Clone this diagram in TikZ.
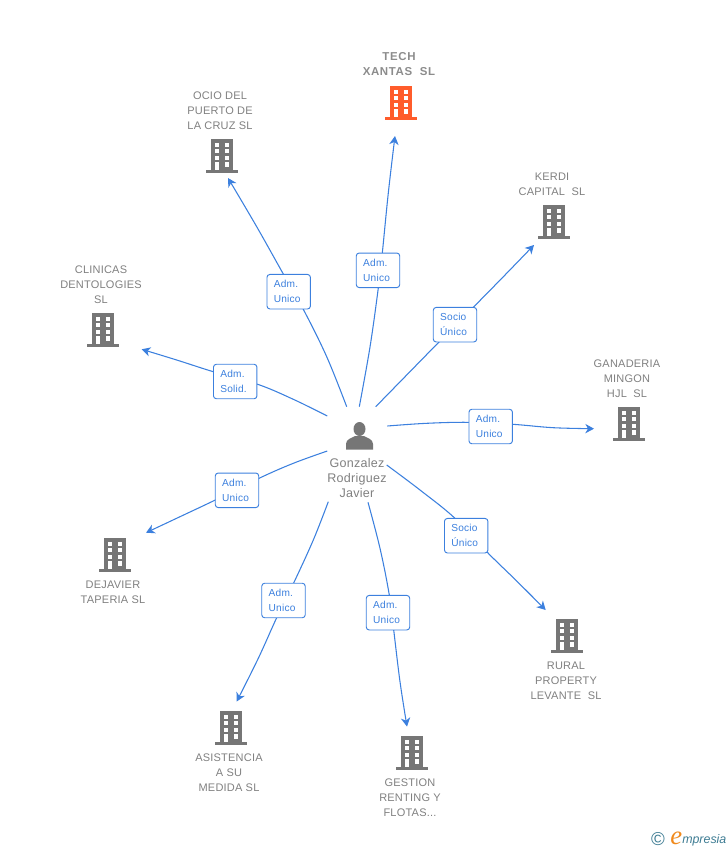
\documentclass[tikz,border=0pt]{standalone}
\usepackage{fontspec}
\setmainfont{Liberation Sans}[LetterSpace=2]
\newfontfamily\logofont{Liberation Sans}
\newfontfamily\logoefont{Liberation Serif}
\usetikzlibrary{arrows.meta,calc}
\definecolor{linkblue}{HTML}{3C80DE}
\definecolor{greytext}{HTML}{808080}
\definecolor{greytextb}{HTML}{8C8C8C}
\definecolor{greybldg}{HTML}{767676}
\definecolor{orangebldg}{HTML}{FF5C2B}
\definecolor{logoteal}{HTML}{3E7C93}
\definecolor{logoorange}{HTML}{F08A1D}
\tikzset{
  ttl/.style={font=\fontsize{8.25pt}{11.25pt}\selectfont,text=greytext,align=center,inner sep=0pt},
  ttlb/.style={font=\fontsize{8.6pt}{11.25pt}\selectfont\bfseries\addfontfeature{LetterSpace=5.5},text=greytextb,align=center,inner sep=0pt},
  pname/.style={font=\fontsize{9.4pt}{11.25pt}\selectfont,text=greytext,align=center,inner sep=0pt},
  lbl/.style={draw=linkblue,fill=white,rounded corners=2.2pt,line width=0.7pt,minimum width=32.6pt,minimum height=25.9pt,inner xsep=5.2pt,inner ysep=0pt,text width=22.2pt,align=left,text=linkblue,font=\fontsize{7.6pt}{11.25pt}\selectfont},
  lnk/.style={draw=linkblue,line width=0.8pt,-{Stealth[length=6.5pt,width=7pt,inset=2pt]}}
}
% name, x, y, colour
\newcommand{\bldg}[4]{%
  \begin{scope}[shift={(#2,#3)}]
    \node[inner sep=0pt,minimum width=24pt,minimum height=25pt] (#1) at (0,0) {};
    \fill[#4] (-11,-17) rectangle (11,15);
    \fill[#4] (-16,14) rectangle (16,17);
    \foreach \yy in {-13.3,-7,-0.4}{
      \fill[white] (-7.3,\yy) rectangle (-2.7,\yy+4.3);
      \fill[white] (2.6,\yy) rectangle (7.3,\yy+4.3);
    }
    \fill[white] (-7.3,6.3) rectangle (-2.7,14);
    \fill[white] (2.6,6.3) rectangle (7.3,10.6);
  \end{scope}}
% name, start, p1, p2, p3, p4, end, label centre, text
\newcommand{\link}[9]{%
  \coordinate (#1s) at (#2);
  \coordinate (#1e) at (#7);
  \coordinate (#1m) at (#8);
  \draw[lnk] plot[smooth,tension=0.6] coordinates {(#1s) (#3) (#4) (#5) (#6) (#1e)};
  \node[lbl] (#1l) at (#1m) {#9};}
\begin{document}
\begin{tikzpicture}[x=0.75pt,y=-0.75pt]
\useasboundingbox (0,0) rectangle (728,850);
\link{a}{359.3,406.7}{370,347}{378.3,288}{382.3,253}{388.3,193}{395,136}{378,270.3}{Adm.\\Unico}
\link{b}{346.7,406.7}{326.7,356.7}{303.3,309.3}{283.3,274}{256.7,226.7}{228,178}{288.7,291.7}{Adm.\\Unico}
\link{c}{375.7,406.7}{407,374.7}{438.3,342.7}{473.3,307.3}{505,275}{534,245}{455,324.7}{Socio\\Único}
\link{d}{327.3,416}{293.3,399.3}{257.7,384.3}{213.3,371.7}{176.7,360}{141.7,349.3}{235.2,381.5}{Adm.\\Solid.}
\link{e}{387.3,426}{426.7,423.3}{468.7,422.3}{512.7,424.3}{553.3,427.7}{594,428.7}{490.7,426.5}{Adm.\\Unico}
\link{f}{327.3,451}{293.3,463.3}{259,478.3}{215.3,500}{180,516.7}{146,532.7}{237,490.3}{Adm.\\Unico}
\link{g}{386.7,465}{420,490}{455,518.3}{488.3,553.3}{516.7,581}{545.7,610}{466.2,535.7}{Socio\\Único}
\link{h}{328.3,501.7}{313.3,540}{294,582.3}{276.7,617.7}{258.3,658.3}{236.7,701.5}{283.5,600.5}{Adm.\\Unico}
\link{i}{368,502.3}{380,548.3}{389.3,595}{393.7,630}{400,681.7}{407,726.5}{388,612.7}{Adm.\\Unico}
\bldg{ba}{401}{103}{orangebldg}
\bldg{bb}{222}{156}{greybldg}
\bldg{bc}{554}{222}{greybldg}
\bldg{bd}{103}{330}{greybldg}
\bldg{be}{629}{424}{greybldg}
\bldg{bf}{115}{555}{greybldg}
\bldg{bg}{567}{636}{greybldg}
\bldg{bh}{231}{728}{greybldg}
\bldg{bi}{412}{753}{greybldg}
\node[ttlb] (ta) at (399,64.5) {TECH\\XANTAS\ \ SL};
\node[ttl] (tb) at (220,111) {OCIO DEL\\PUERTO DE\\LA CRUZ SL};
\node[ttl] (tc) at (552,184.5) {KERDI\\CAPITAL\ \ SL};
\node[ttl] (td) at (101,285) {CLINICAS\\DENTOLOGIES\\SL};
\node[ttl] (te) at (627,379) {GANADERIA\\MINGON\\HJL\ \ SL};
\node[ttl] (tf) at (113,592) {DEJAVIER\\TAPERIA SL};
\node[ttl] (tg) at (566,681) {RURAL\\PROPERTY\\LEVANTE\ \ SL};
\node[ttl] (th) at (229,773) {ASISTENCIA\\A SU\\MEDIDA SL};
\node[ttl] (ti) at (410,798) {GESTION\\RENTING Y\\FLOTAS...};
\node[pname] (pn) at (357,478) {Gonzalez\\Rodriguez\\Javier};
% person icon
\node[inner sep=0pt,minimum width=20pt,minimum height=20pt] (person) at (359.5,435.5) {};
\fill[greybldg] (359.5,429) ellipse (6 and 7);
\fill[greybldg] (346,449.5) -- (346,444) .. controls (346,439) and (352,438) .. (355,436)
  -- (364,436) .. controls (367,438) and (373,439) .. (373,444) -- (373,449.5) -- cycle;
% logo
\node[inner sep=0pt,text=logoteal,font=\logofont\fontsize{14pt}{14pt}\selectfont] (copy) at (658,839) {©};
\node[inner sep=0pt,anchor=base west,text=logoorange,font=\logoefont\fontsize{20pt}{20pt}\selectfont\itshape] (loge) at (670,844) {e};
\node[inner sep=0pt,anchor=base west,text=logoteal,font=\logofont\fontsize{9.3pt}{10pt}\selectfont\itshape] (logt) at (682,843.5) {mpresia};
\end{tikzpicture}
\end{document}
